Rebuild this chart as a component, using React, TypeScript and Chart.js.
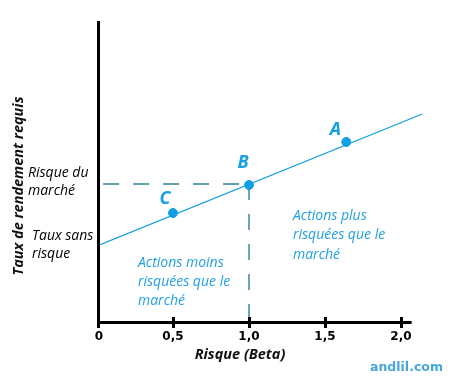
import React, { useEffect, useRef } from "react";
import { Chart, registerables } from "chart.js";

Chart.register(...registerables);

// ---- data ----
const riskFreeRate = 3.8;
const marketReturn = 6.9;
const smlBeta = [0, 2.14];
const smlReturn = [3.8, 10.4];
const pointLabels = ["C", "B", "A"];
const pointBeta = [0.5, 1.0, 1.64];
const pointReturn = [5.45, 6.85, 9.0];
const xTickValues = [0, 0.5, 1, 1.5, 2];
const xTickLabels = ["0", "0,5", "1,0", "1,5", "2,0"];
const xAxisTitle = "Risque (Beta)";
const yAxisTitle = "Taux de rendement requis";
const marketLabel = ["Risque du", "marché"];
const riskFreeLabel = ["Taux sans", "risque"];
const riskierText = ["Actions plus", "risquées que le", "marché"];
const saferText = ["Actions moins", "risquées que le", "marché"];
const watermark = "andlil.com";

const BLUE = "#129fe4";
const TEXT_BLUE = "#22a0e4";
const DASH = "#2f8090";

const decor = {
  id: "smlDecor",
  afterDraw(chart: any) {
    const ctx = chart.ctx;
    const xs = chart.scales.x;
    const ys = chart.scales.y;
    const x0 = xs.getPixelForValue(0);
    const y0 = ys.getPixelForValue(0);
    ctx.save();
    // axes
    ctx.fillStyle = "#000";
    ctx.fillRect(x0, 21, 3, y0 - 21 + 2);
    ctx.fillRect(x0, y0 - 1, xs.getPixelForValue(2.07) - x0, 3);
    xTickValues.forEach((v) => {
      const px = Math.round(xs.getPixelForValue(v));
      ctx.fillRect(v === 0 ? px : px - 1, y0 - 5, 3, 11);
    });
    // tick labels
    ctx.font = "bold 12px 'DejaVu Sans'";
    ctx.textAlign = "center";
    ctx.textBaseline = "middle";
    xTickValues.forEach((v, i) => {
      const px = xs.getPixelForValue(v) + (v === 0 ? 2 : 0);
      ctx.fillText(xTickLabels[i], px, y0 + 15);
    });
    // axis titles
    ctx.font = "italic bold 14.5px 'Open Sans'";
    ctx.fillStyle = "#111";
    ctx.fillText(xAxisTitle, 240, 355);
    ctx.save();
    ctx.translate(19, 186);
    ctx.rotate(-Math.PI / 2);
    ctx.fillText(yAxisTitle, 0, 0);
    ctx.restore();
    // left labels
    ctx.font = "italic 14px 'Open Sans'";
    ctx.textAlign = "left";
    ctx.fillStyle = "#000";
    const ym = ys.getPixelForValue(marketReturn);
    ctx.fillText(marketLabel[0], 28, ym - 11);
    ctx.fillText(marketLabel[1], 28, ym + 7);
    const yr = ys.getPixelForValue(riskFreeRate);
    ctx.fillText(riskFreeLabel[0], 32, yr - 10);
    ctx.fillText(riskFreeLabel[1], 32, yr + 8);
    // annotations
    ctx.fillStyle = TEXT_BLUE;
    riskierText.forEach((t, i) => ctx.fillText(t, 293, 216 + i * 19.5));
    saferText.forEach((t, i) => ctx.fillText(t, 138, 263 + i * 19.2));
    // point letters
    ctx.font = "italic bold 18px 'Open Sans'";
    ctx.textAlign = "center";
    ctx.fillStyle = BLUE;
    const offs = [
      [-8, -14],
      [-6, -22],
      [-11, -12],
    ];
    pointLabels.forEach((l, i) => {
      const px = xs.getPixelForValue(pointBeta[i]);
      const py = ys.getPixelForValue(pointReturn[i]);
      ctx.fillText(l, px + offs[i][0], py + offs[i][1]);
    });
    // watermark
    ctx.font = "bold 12.5px 'DejaVu Sans'";
    ctx.fillStyle = "#47a7dc";
    ctx.textAlign = "left";
    ctx.fillText(watermark, 370, 368);
    ctx.restore();
  },
};

export default function App() {
  const ref = useRef<HTMLCanvasElement>(null);
  useEffect(() => {
    if (!ref.current) return;
    const chart = new Chart(ref.current, {
      type: "scatter",
      data: {
        datasets: [
          {
            data: pointBeta.map((b, i) => ({ x: b, y: pointReturn[i] })),
            pointRadius: 4.5,
            pointBackgroundColor: BLUE,
            pointBorderColor: BLUE,
            showLine: false,
            order: 0,
          },
          {
            data: smlBeta.map((b, i) => ({ x: b, y: smlReturn[i] })),
            showLine: true,
            borderColor: BLUE,
            borderWidth: 1.3,
            pointRadius: 0,
            order: 1,
          },
          {
            data: [
              { x: 0.04, y: marketReturn },
              { x: 1.0, y: marketReturn },
            ],
            showLine: true,
            borderColor: DASH,
            borderWidth: 1.4,
            borderDash: [16, 14],
            pointRadius: 0,
            order: 2,
          },
          {
            data: [
              { x: 1.0, y: marketReturn },
              { x: 1.0, y: 0 },
            ],
            showLine: true,
            borderColor: DASH,
            borderWidth: 1.4,
            borderDash: [16, 14],
            pointRadius: 0,
            order: 2,
          },
        ],
      },
      options: {
        animation: false,
        responsive: false,
        devicePixelRatio: 1,
        layout: { padding: { left: 97, right: 21.6, top: 22, bottom: 63 } },
        scales: {
          x: { type: "linear", min: 0, max: 2.2, display: false },
          y: { type: "linear", min: 0, max: 15, display: false },
        },
        plugins: { legend: { display: false }, tooltip: { enabled: false } },
      },
      plugins: [decor],
    });
    return () => chart.destroy();
  }, []);
  return (
    <div style={{ position: "fixed", left: 0, top: 0, width: 453, height: 385, background: "#fff" }}>
      <canvas ref={ref} width={453} height={385} />
    </div>
  );
}
